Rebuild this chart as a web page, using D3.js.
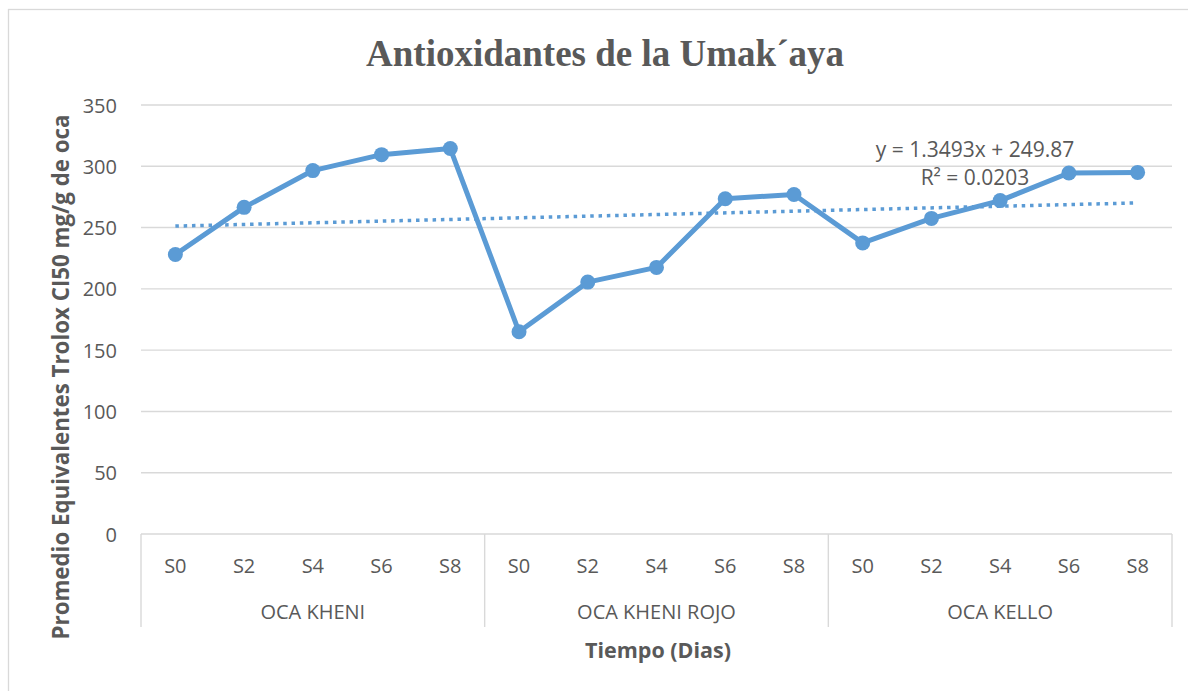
<!DOCTYPE html>
<html><head><meta charset="utf-8">
<script src="https://cdn.jsdelivr.net/npm/d3@7"></script>
<style>body{margin:0;background:#fff}svg{display:block}</style>
</head><body>
<svg id="chart" width="1188" height="691"></svg>
<script>
const groups = ["OCA KHENI", "OCA KHENI ROJO", "OCA KELLO"];
const days = ["S0", "S2", "S4", "S6", "S8"];
const valuesKheni = [228, 266.5, 296.5, 309.5, 314.5];
const valuesKheniRojo = [165, 205.5, 217.5, 273.5, 277];
const valuesKello = [237.5, 257.5, 272, 294.5, 295];
const yTicks = [0, 50, 100, 150, 200, 250, 300, 350];
const trendSlope = 1.3493, trendIntercept = 249.87;
const trendLabel = "y = 1.3493x + 249.87";
const r2Label = "R² = 0.0203";
const title = "Antioxidantes de la Umak´aya";
const yTitle = "Promedio Equivalentes Trolox CI50 mg/g de oca";
const xTitle = "Tiempo (Dias)";

const seriesValues = [valuesKheni, valuesKheniRojo, valuesKello];
const data = [];
groups.forEach((g, gi) => days.forEach((d, di) => data.push({key: g + "|" + d, group: g, day: d, value: seriesValues[gi][di], idx: data.length + 1})));

const svg = d3.select("#chart");
const L = 141, R = 1172, T = 105, B = 534;
const color = "#5B9BD5", gridC = "#d9d9d9", textC = "#595959";
const font = "'Open Sans', sans-serif";

svg.append("rect").attr("x", 8.5).attr("y", 9.5).attr("width", 1200).attr("height", 700)
  .attr("fill", "#fff").attr("stroke", gridC).attr("stroke-width", 1.3);

const x = d3.scaleBand().domain(data.map(d => d.key)).range([L, R]);
const xg = d3.scaleBand().domain(groups).range([L, R]);
const y = d3.scaleLinear().domain([0, 350]).range([B, T]);

// grid
svg.append("g").selectAll("line").data(yTicks.filter(t => t > 0)).join("line")
  .attr("x1", L).attr("x2", R).attr("y1", d => y(d)).attr("y2", d => y(d))
  .attr("stroke", gridC).attr("stroke-width", 1.4);

// y axis labels
const yAxis = svg.append("g").attr("transform", `translate(${L},0)`)
  .call(d3.axisLeft(y).tickValues(yTicks).tickSize(0).tickPadding(24));
yAxis.select(".domain").remove();
yAxis.selectAll("text").attr("font-family", font).attr("font-size", 20).attr("fill", textC).attr("dy", "0.35em");

// x axis
svg.append("line").attr("x1", L).attr("x2", R).attr("y1", B).attr("y2", B).attr("stroke", gridC).attr("stroke-width", 1.4);
const seps = groups.map(g => xg(g)).concat([R]);
svg.append("g").selectAll("line").data(seps).join("line")
  .attr("x1", d => d).attr("x2", d => d).attr("y1", B).attr("y2", 627)
  .attr("stroke", gridC).attr("stroke-width", 1.4);
svg.append("g").selectAll("text").data(data).join("text")
  .attr("x", d => x(d.key) + x.bandwidth() / 2).attr("y", 573)
  .attr("text-anchor", "middle").attr("font-family", font).attr("font-size", 20).attr("fill", textC)
  .text(d => d.day);
svg.append("g").selectAll("text").data(groups).join("text")
  .attr("x", d => xg(d) + xg.bandwidth() / 2).attr("y", 619)
  .attr("text-anchor", "middle").attr("font-family", font).attr("font-size", 20).attr("fill", textC)
  .text(d => d);

// trend line
const first = data[0], last = data[data.length - 1];
const cx = d => x(d.key) + x.bandwidth() / 2;
svg.append("line")
  .attr("x1", cx(first)).attr("y1", y(trendSlope * first.idx + trendIntercept))
  .attr("x2", cx(last)).attr("y2", y(trendSlope * last.idx + trendIntercept))
  .attr("stroke", color).attr("stroke-width", 3.5).attr("stroke-dasharray", "3.5,4.8");

// series line
svg.append("path").datum(data)
  .attr("d", d3.line().x(cx).y(d => y(d.value)))
  .attr("fill", "none").attr("stroke", color).attr("stroke-width", 5).attr("stroke-linejoin", "round");
svg.append("g").selectAll("circle").data(data).join("circle")
  .attr("cx", cx).attr("cy", d => y(d.value)).attr("r", 7.5).attr("fill", color);

// equation
svg.append("text").attr("x", 975).attr("y", 157).attr("text-anchor", "middle")
  .attr("font-family", font).attr("font-size", 21).attr("fill", textC).text(trendLabel);
svg.append("text").attr("x", 975).attr("y", 185).attr("text-anchor", "middle")
  .attr("font-family", font).attr("font-size", 21).attr("fill", textC).text(r2Label);

// titles
svg.append("text").attr("x", 605).attr("y", 66).attr("text-anchor", "middle")
  .attr("font-family", "'Liberation Serif', 'Times New Roman', serif").attr("font-weight", "bold")
  .attr("font-size", 37).attr("fill", textC).text(title);
svg.append("text").attr("x", 658).attr("y", 658).attr("text-anchor", "middle")
  .attr("font-family", font).attr("font-weight", "bold").attr("font-size", 21.5).attr("fill", textC).text(xTitle);
svg.append("text").attr("transform", "translate(69,377) rotate(-90)").attr("text-anchor", "middle")
  .attr("font-family", font).attr("font-weight", "bold").attr("font-size", 22.3).attr("fill", textC).text(yTitle);
</script>
</body></html>
